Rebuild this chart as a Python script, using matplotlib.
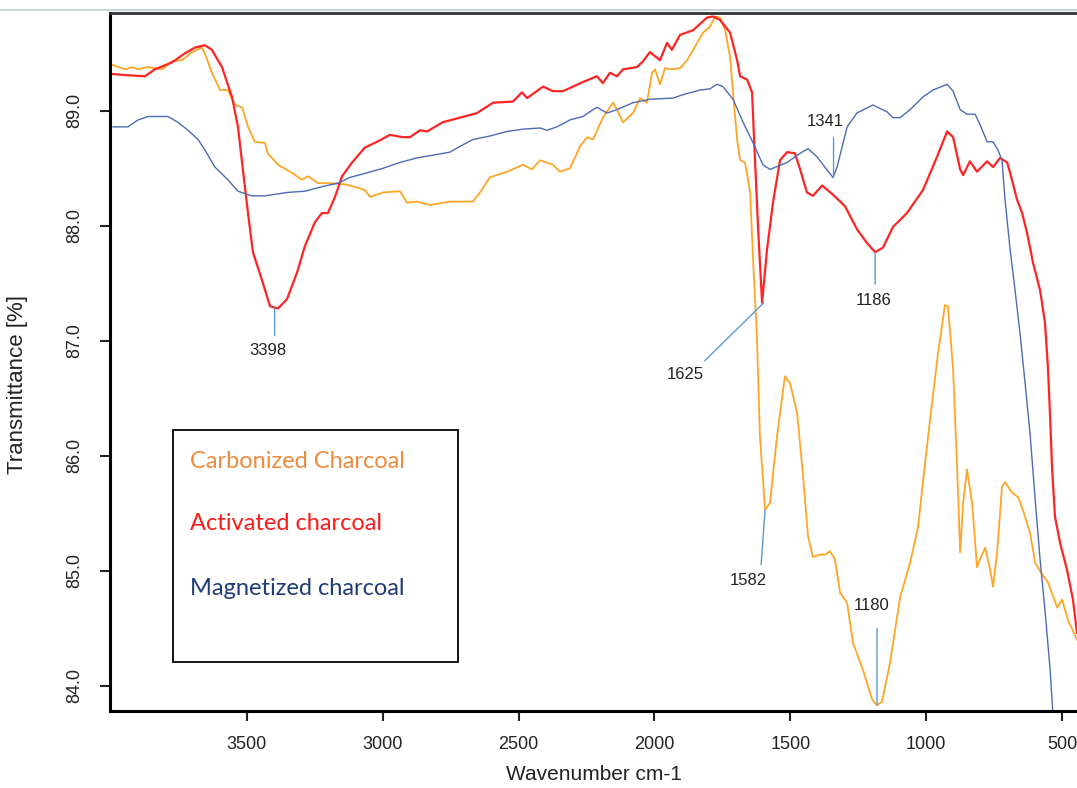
import numpy as np
import matplotlib
matplotlib.use("Agg")
import matplotlib.pyplot as plt
from matplotlib.lines import Line2D
from matplotlib.patches import Rectangle

# FTIR spectra: wavenumber (cm-1) and transmittance (%)
carb_wn = [3997, 3949, 3923, 3901, 3864, 3813, 3776, 3739, 3702, 3666, 3655, 3629, 3599, 3570,
           3544, 3518, 3496, 3471, 3434, 3423, 3386, 3334, 3298, 3275, 3239, 3187, 3139, 3091,
           3066, 3047, 2999, 2937, 2911, 2874, 2826, 2753, 2668, 2642, 2606, 2543, 2484, 2451,
           2421, 2374, 2348, 2311, 2274, 2248, 2226, 2190, 2153, 2138, 2116, 2079, 2053, 2028,
           2009, 1998, 1980, 1961, 1936, 1906, 1880, 1858, 1821, 1796, 1777, 1759, 1740, 1722,
           1711, 1696, 1685, 1667, 1648, 1637, 1623, 1612, 1593, 1575, 1549, 1520, 1501, 1475,
           1453, 1435, 1417, 1391, 1372, 1354, 1336, 1317, 1291, 1269, 1233, 1199, 1181, 1163,
           1133, 1096, 1059, 1030, 1012, 986, 956, 931, 920, 901, 886, 875, 864, 850, 831, 813,
           802, 783, 765, 754, 739, 721, 710, 684, 662, 644, 618, 599, 574, 552, 518, 500, 478, 445]
carb_t = [89.40, 89.36, 89.38, 89.36, 89.38, 89.36, 89.43, 89.44, 89.51, 89.55, 89.50, 89.33,
          89.18, 89.18, 89.05, 89.03, 88.86, 88.73, 88.72, 88.63, 88.53, 88.46, 88.40, 88.43,
          88.37, 88.37, 88.36, 88.33, 88.31, 88.25, 88.29, 88.30, 88.20, 88.21, 88.18, 88.21,
          88.21, 88.29, 88.42, 88.47, 88.53, 88.49, 88.57, 88.53, 88.47, 88.50, 88.69, 88.77,
          88.75, 88.94, 89.07, 89.01, 88.90, 88.98, 89.11, 89.07, 89.33, 89.36, 89.23, 89.37,
          89.36, 89.37, 89.44, 89.53, 89.68, 89.73, 89.82, 89.81, 89.70, 89.47, 89.16, 88.75,
          88.57, 88.55, 88.29, 87.70, 87.03, 86.17, 85.53, 85.59, 86.17, 86.69, 86.63, 86.37,
          85.82, 85.30, 85.12, 85.14, 85.14, 85.17, 85.10, 84.81, 84.72, 84.37, 84.14, 83.88,
          83.83, 83.86, 84.20, 84.77, 85.07, 85.38, 85.77, 86.31, 86.90, 87.31, 87.30, 86.75,
          85.88, 85.16, 85.59, 85.88, 85.59, 85.03, 85.10, 85.20, 85.01, 84.86, 85.16, 85.73,
          85.77, 85.68, 85.64, 85.53, 85.33, 85.07, 84.97, 84.90, 84.68, 84.75, 84.57, 84.40]

act_wn = [3997, 3949, 3875, 3839, 3776, 3728, 3691, 3655, 3629, 3592, 3555, 3533, 3515, 3496,
          3478, 3445, 3415, 3386, 3353, 3316, 3287, 3250, 3224, 3202, 3176, 3150, 3113, 3066,
          3021, 2974, 2926, 2900, 2863, 2837, 2779, 2716, 2653, 2594, 2521, 2488, 2469, 2410,
          2374, 2337, 2263, 2212, 2190, 2164, 2138, 2116, 2064, 2042, 2017, 1980, 1954, 1936,
          1906, 1858, 1807, 1785, 1759, 1722, 1696, 1685, 1659, 1641, 1630, 1619, 1604, 1586,
          1564, 1538, 1512, 1483, 1464, 1439, 1417, 1383, 1343, 1299, 1255, 1218, 1188, 1159,
          1122, 1071, 1012, 960, 923, 901, 875, 864, 839, 813, 776, 754, 728, 702, 691, 666,
          647, 629, 607, 581, 563, 552, 544, 537, 526, 507, 482, 460, 445]
act_t = [89.32, 89.31, 89.30, 89.36, 89.42, 89.50, 89.55, 89.57, 89.53, 89.38, 89.12, 88.86,
         88.49, 88.11, 87.77, 87.53, 87.30, 87.28, 87.36, 87.59, 87.82, 88.03, 88.11, 88.11,
         88.25, 88.43, 88.55, 88.68, 88.73, 88.79, 88.77, 88.77, 88.83, 88.82, 88.90, 88.94,
         88.98, 89.07, 89.08, 89.16, 89.11, 89.21, 89.17, 89.17, 89.25, 89.30, 89.24, 89.33,
         89.30, 89.36, 89.38, 89.43, 89.51, 89.44, 89.59, 89.53, 89.66, 89.70, 89.81, 89.82,
         89.79, 89.68, 89.44, 89.30, 89.27, 89.16, 88.57, 87.99, 87.33, 87.79, 88.20, 88.57,
         88.64, 88.63, 88.49, 88.29, 88.26, 88.35, 88.27, 88.17, 87.97, 87.85, 87.77, 87.81,
         87.99, 88.11, 88.31, 88.60, 88.82, 88.77, 88.49, 88.44, 88.56, 88.47, 88.56, 88.51,
         88.59, 88.55, 88.46, 88.23, 88.11, 87.94, 87.68, 87.44, 87.16, 86.77, 86.34, 85.90,
         85.47, 85.24, 85.01, 84.75, 84.46]

mag_wn = [3993, 3938, 3901, 3864, 3791, 3754, 3717, 3680, 3655, 3618, 3570, 3533, 3482, 3434,
          3349, 3287, 3224, 3165, 3121, 3058, 2999, 2937, 2874, 2801, 2753, 2716, 2668, 2606,
          2543, 2484, 2421, 2396, 2359, 2311, 2263, 2245, 2212, 2175, 2138, 2079, 2017, 1932,
          1895, 1833, 1796, 1770, 1748, 1711, 1674, 1637, 1601, 1575, 1512, 1464, 1435, 1402,
          1360, 1343, 1328, 1291, 1255, 1196, 1144, 1122, 1096, 1059, 1012, 975, 923, 901, 875,
          850, 820, 802, 776, 754, 736, 721, 710, 691, 673, 655, 636, 618, 599, 581, 563, 544,
          530]
mag_t = [88.86, 88.86, 88.92, 88.95, 88.95, 88.90, 88.83, 88.75, 88.66, 88.51, 88.40, 88.30,
         88.26, 88.26, 88.29, 88.30, 88.34, 88.37, 88.42, 88.46, 88.50, 88.55, 88.59, 88.62,
         88.64, 88.69, 88.75, 88.78, 88.82, 88.84, 88.85, 88.83, 88.86, 88.92, 88.95, 88.98,
         89.03, 88.98, 89.01, 89.07, 89.10, 89.11, 89.14, 89.18, 89.19, 89.23, 89.21, 89.10,
         88.90, 88.72, 88.53, 88.49, 88.55, 88.63, 88.67, 88.60, 88.47, 88.42, 88.51, 88.86,
         88.98, 89.05, 88.99, 88.94, 88.94, 89.01, 89.12, 89.18, 89.23, 89.17, 89.01, 88.97,
         88.97, 88.88, 88.73, 88.73, 88.66, 88.57, 88.23, 87.79, 87.44, 87.07, 86.63, 86.20,
         85.62, 85.10, 84.66, 84.14, 83.62]

series_names = ["Carbonized Charcoal", "Activated charcoal", "Magnetized charcoal"]

# peak labels, which curve they sit on, where the leader touches its minimum
peak_labels = ["3398", "1625", "1341", "1186", "1582", "1180"]
peak_series = [1, 1, 2, 1, 0, 0]
peak_wn = [3398, 1598, 1341, 1188, 1593, 1181]
# leader end and text centre, in pixels from the touch point
leader_end = [(0, -27), (-59, -58), (0, 40), (0, -32), (-4, -55), (0, 77)]
label_pos = [(-7, -42), (-78, -72), (-8, 56), (-1, -48), (-17, -71), (-5, 100)]

x_ticks = [3500, 3000, 2500, 2000, 1500, 1000, 500]
y_ticks = [84.0, 85.0, 86.0, 87.0, 88.0, 89.0]

line_colors = ["#FFA526", "#FF2424", "#4A6CB5"]
line_widths = [1.3, 1.6, 1.0]
text_colors = ["#EE8B3E", "#FF1A1A", "#203C78"]
leader_color = "#5B9BD5"

plt.rcParams["font.family"] = ["Liberation Sans", "DejaVu Sans"]

fig = plt.figure(figsize=(10.77, 7.88), dpi=100)
ax = fig.add_axes([110 / 1077, 77 / 788, 967 / 1077, 698 / 788])

curves = [(np.array(carb_wn), np.array(carb_t)),
          (np.array(act_wn), np.array(act_t)),
          (np.array(mag_wn), np.array(mag_t))]
for (wn, t), c, lw in zip(curves, line_colors, line_widths):
    ax.plot(wn, t, color=c, lw=lw, solid_joinstyle="round")

ax.set_xlim(4004, 445)
ax.set_ylim(83.78, 89.85)

for lab, s, w, le, lp in zip(peak_labels, peak_series, peak_wn, leader_end, label_pos):
    wn, t = curves[s]
    y = t[np.abs(wn - w) < 20].min()
    ax.annotate("", xy=(w, y), xytext=le, textcoords="offset pixels",
                arrowprops=dict(arrowstyle="-", color=leader_color, lw=1,
                                shrinkA=0, shrinkB=0))
    ax.annotate(lab, xy=(w, y), xytext=lp, textcoords="offset pixels",
                ha="center", va="center", fontsize=12, color="#222222")

ax.set_xticks(x_ticks)
ax.set_yticks(y_ticks)
ax.set_yticklabels(["%.1f" % v for v in y_ticks], rotation=90, va="center")
ax.tick_params(axis="x", direction="out", length=7, width=1.5, labelsize=13,
               pad=11, colors="#222222")
ax.tick_params(axis="y", direction="out", length=7, width=1.5, labelsize=13,
               pad=12, colors="#222222")

ax.spines["right"].set_visible(False)
ax.spines["left"].set_linewidth(2.2)
ax.spines["bottom"].set_linewidth(2.2)
ax.spines["top"].set_linewidth(2)
ax.spines["top"].set_color("#333333")

ax.set_xlabel("Wavenumber cm-1", fontsize=15, labelpad=9, color="#222222")
ax.set_ylabel("Transmittance [%]", fontsize=16, color="#222222")
ax.yaxis.set_label_coords(-0.085, 0.468)

fig.add_artist(Line2D([0, 1], [778 / 788, 778 / 788], color="#C9D2DE", lw=1.5))

# legend box with coloured names
ax.add_patch(Rectangle((0.065, 0.070), 0.295, 0.333, transform=ax.transAxes,
                       fill=False, ec="black", lw=1.3))
for name, c, yy in zip(series_names, text_colors, [0.357, 0.269, 0.176]):
    ax.text(0.083, yy, name, transform=ax.transAxes, color=c, fontsize=17,
            family=["Lato", "DejaVu Sans"], va="center", ha="left")

fig.savefig("out.png", dpi=100)
